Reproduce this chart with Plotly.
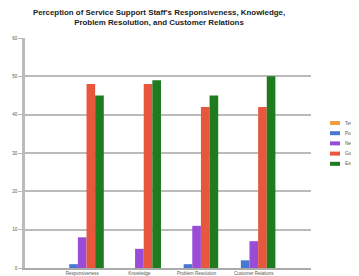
import plotly.graph_objects as go

categories = ["Responsiveness", "Knowledge", "Problem Resolution", "Customer Relations"]
series_names = ["Terrible", "Poor", "Neutral", "Good", "Excellent"]
terrible = [0, 0, 0, 0]
poor = [1, 0, 1, 2]
neutral = [8, 5, 11, 7]
good = [48, 48, 42, 42]
excellent = [45, 49, 45, 50]
y_ticks = [0, 10, 20, 30, 40, 50, 60]

colors = ["#F0A040", "#4A78D0", "#9B4CD6", "#E8573D", "#1E7B1E"]
values = [terrible, poor, neutral, good, excellent]

W, H = 359, 276
OFF = 8  # page body margin
# desired page-pixel plot box
PL, PR, PT, PB = 25, 311, 38, 268
ML, MT = PL - OFF, PT - OFF
MR = W - (PR - OFF)
MB = H - (PB - OFF)
pw, ph = W - ML - MR, H - MT - MB


def px(xp):
    return (xp - PL) / pw


def py(yp):
    return (PB - yp) / ph


fig = go.Figure()
for name, vals, col in zip(series_names, values, colors):
    fig.add_trace(go.Bar(x=categories, y=vals, name=name, marker_color=col,
                         marker_line_width=0, showlegend=False))

# manual compact legend (Plotly's native legend has a minimum row height)
shapes, annots = [], []
leg_top = 123
for i, (name, col) in enumerate(zip(series_names, colors)):
    yc = leg_top + i * 10.2
    shapes.append(dict(type="rect", xref="paper", yref="paper", x0=px(330), x1=px(340),
                       y0=py(yc + 2), y1=py(yc - 2), fillcolor=col, line_width=0))
    annots.append(dict(text=name, xref="paper", yref="paper", x=px(343), y=py(yc),
                       xanchor="left", yanchor="middle", showarrow=False,
                       font=dict(size=4.5, color="#555")))

fig.update_layout(
    width=W, height=H,
    margin=dict(l=ML, r=MR, t=MT, b=MB, autoexpand=False),
    paper_bgcolor="white", plot_bgcolor="white",
    barmode="group", bargap=0.245, bargroupgap=0,
    title=dict(text="<b>Perception of Service Support Staff's Responsiveness, Knowledge,<br>Problem Resolution, and Customer Relations</b>",
               xref="paper", x=px(159), xanchor="center",
               yref="container", y=1 - 7 / H, yanchor="top",
               font=dict(family="Liberation Sans, Arial", size=7.9, color="#222")),
    font=dict(family="Liberation Sans, Arial", size=4.5, color="#555"),
    showlegend=False,
    shapes=shapes, annotations=annots,
)
fig.update_xaxes(range=[-1.0, 4.0], showline=True, linecolor="#aaa", linewidth=1.5,
                 ticks="", tickfont=dict(size=4.5, color="#555"), showgrid=False,
                 automargin=False)
fig.update_yaxes(range=[0, 60], tickvals=y_ticks, showline=True, linecolor="#bbb",
                 linewidth=2.5, gridcolor="#bbb", gridwidth=1.5,
                 ticks="outside", ticklen=4, tickcolor="#bbb",
                 tickfont=dict(size=4.5, color="#555"), zeroline=False, automargin=False)

fig.write_html("out.html")
